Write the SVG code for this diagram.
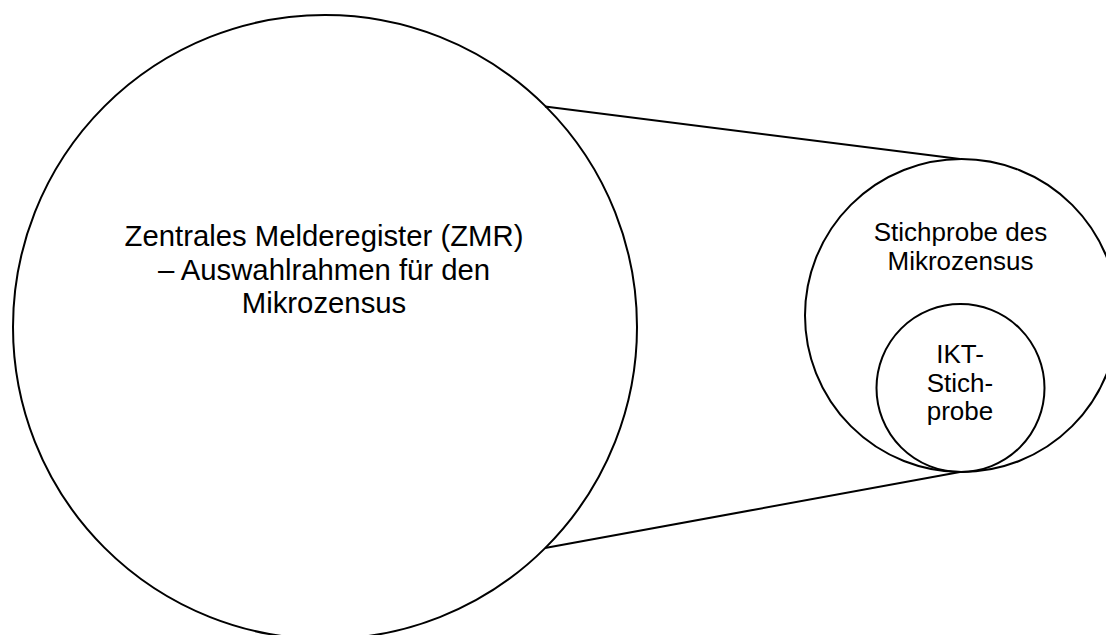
<svg xmlns="http://www.w3.org/2000/svg" width="1106" height="635" viewBox="0 0 1106 635">
<style>
.c{fill:none;stroke:#000;stroke-width:2}
.l{stroke:#000;stroke-width:2;fill:none}
.t{font-family:"Liberation Sans",Arial,sans-serif;fill:#000;text-anchor:middle}
.big{font-size:29.3px}
.sm{font-size:26px}
</style>
<rect width="1106" height="635" fill="#fff"/>
<g id="connectors">
<line class="l" x1="545" y1="106.5" x2="960" y2="159"/>
<line class="l" x1="545" y1="548" x2="960" y2="472"/>
</g>
<g id="zmr">
<circle class="c" cx="325" cy="327" r="312"/>
<text class="t big" x="324" y="246">Zentrales Melderegister (ZMR)</text>
<text class="t big" x="324" y="279.5">– Auswahlrahmen für den</text>
<text class="t big" x="324" y="313">Mikrozensus</text>
</g>
<g id="mikrozensus">
<circle class="c" cx="961.5" cy="315.5" r="156.5"/>
<text class="t sm" x="960.5" y="241">Stichprobe des</text>
<text class="t sm" x="960.5" y="270">Mikrozensus</text>
</g>
<g id="ikt">
<circle class="c" cx="960.5" cy="388" r="84"/>
<text class="t sm" x="960" y="363">IKT-</text>
<text class="t sm" x="960" y="391.5">Stich-</text>
<text class="t sm" x="960" y="420">probe</text>
</g>
</svg>
